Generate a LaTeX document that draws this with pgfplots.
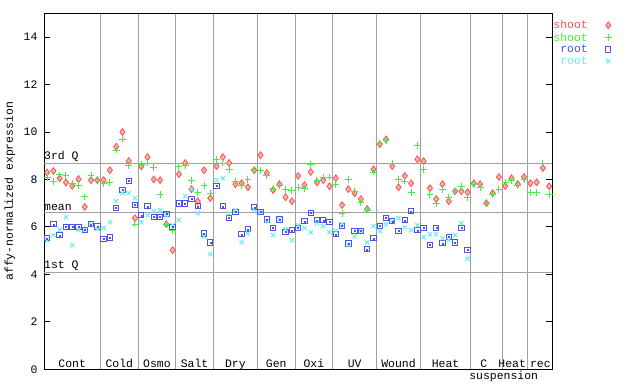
\documentclass[border=0pt]{standalone}
\usepackage{fontspec}
\setmainfont{Liberation Mono}
\usepackage{pgfplots}
\usepackage{pgfplotstable}
\pgfplotsset{compat=1.18}
\definecolor{cred}{RGB}{255,80,80}
\definecolor{cgreen}{RGB}{64,240,64}
\definecolor{cblue}{RGB}{80,80,240}
\definecolor{ccyan}{RGB}{100,240,240}
\definecolor{cgrid}{RGB}{160,160,160}
\pgfplotstableread{
i a b
1 8.29 8.09
2 8.36 7.90
3 8.05 8.19
4 7.87 8.15
5 7.73 7.83
6 8.01 7.73
7 6.84 7.26
8 7.97 8.17
9 7.97 8.01
10 7.97 7.81
11 8.39 7.86
12 9.38 9.24
13 10.00 9.70
14 8.77 8.60
15 6.37 6.12
16 8.55 8.62
17 8.94 8.69
18 8.00 8.50
19 7.97 7.38
20 6.11 6.11
21 5.02 5.86
22 8.22 8.56
23 8.69 8.60
24 7.59 7.97
25 7.08 7.46
26 8.39 7.76
27 7.21 7.42
28 8.56 8.85
29 8.94 8.69
30 8.69 8.43
31 7.80 7.93
32 7.84 7.76
33 7.67 8.00
34 8.39 8.43
35 9.02 8.39
36 8.27 8.15
37 7.55 7.63
38 7.80 7.76
39 7.25 7.59
40 7.08 7.55
41 8.15 7.67
42 7.76 7.63
43 8.31 8.64
44 7.88 7.97
45 7.97 8.10
46 7.71 8.10
47 8.05 7.80
48 6.92 6.58
49 7.59 8.00
50 7.42 7.50
51 7.17 7.04
52 6.75 6.71
53 8.43 8.31
54 9.48 9.53
55 9.69 9.62
56 8.56 8.69
57 7.67 8.00
58 8.15 7.93
59 7.84 7.46
60 8.85 9.44
61 8.77 8.43
62 7.63 7.38
63 7.17 7.00
64 7.80 7.59
65 7.08 7.25
66 7.50 7.50
67 7.50 7.72
68 7.46 7.25
69 7.84 7.80
70 7.80 7.67
71 7.00 7.00
72 7.42 7.38
73 8.10 7.59
74 7.72 7.88
75 8.05 7.97
76 7.80 7.76
77 8.10 8.00
78 7.84 7.46
79 7.88 7.46
80 8.48 8.69
81 7.71 7.38
}\shoottab
\pgfplotstableread{
i a b
1 5.52 5.43
2 6.11 5.65
3 5.65 5.88
4 5.99 6.41
5 5.99 5.23
6 5.99 5.87
7 5.88 5.88
8 6.11 6.11
9 6.02 5.91
10 5.49 5.94
11 5.56 6.20
12 6.79 7.09
13 7.55 7.42
14 7.93 7.42
15 6.92 7.21
16 6.49 6.20
17 6.87 6.49
18 6.41 6.66
19 6.41 6.71
20 6.54 6.49
21 6.00 6.07
22 6.99 6.29
23 6.99 7.30
24 7.17 7.59
25 6.87 6.58
26 5.73 5.60
27 5.35 4.85
28 7.72 7.97
29 6.87 8.05
30 6.37 6.58
31 6.62 6.70
32 5.69 5.35
33 5.90 5.73
34 6.83 6.72
35 6.62 6.62
36 6.32 6.24
37 5.95 5.65
38 6.32 6.32
39 5.78 5.90
40 5.86 5.44
41 5.95 6.07
42 6.24 5.95
43 6.58 5.77
44 6.28 6.16
45 6.28 6.03
46 6.20 5.77
47 5.69 5.84
48 6.03 6.11
49 5.30 5.23
50 5.82 5.60
51 5.82 5.82
52 5.06 5.35
53 5.52 6.03
54 6.03 5.82
55 6.37 6.11
56 6.24 6.24
57 5.82 6.37
58 6.28 5.99
59 6.66 5.86
60 5.86 6.07
61 5.95 5.57
62 5.23 5.69
63 5.95 5.69
64 5.31 5.52
65 5.57 5.44
66 5.35 5.65
67 5.95 6.16
68 5.02 4.66
}\roottab
\begin{document}
\begin{tikzpicture}
\useasboundingbox (0,0) rectangle (640bp,384bp);
\begin{axis}[
  scale only axis,
  width=508.3bp, height=356bp,
  at={(44bp,14.7bp)}, anchor=south west,
  xmin=0.5, xmax=81.5, ymin=0, ymax=15,
  font=\fontsize{11.5}{12}\selectfont,
  /pgf/number format/assume math mode=true,
  ytick={0,2,...,14},
  ytick pos=both,
  tick align=inside,
  major tick length=6bp,
  tick style={black, line width=0.8bp},
  yticklabel style={xshift=-3bp},
  yticklabel pos=left,
  xtick={9.5,15.5,21.5,27.5,34.5,40.5,46.5,53.5,60.5,68.5,73.5,77.5},
  xticklabels={},
  x tick style={draw=none},
  xmajorgrids,
  grid style={cgrid, line width=0.9bp},
  extra y ticks={4.09,6.62,8.69},
  extra y tick labels={},
  extra y tick style={grid=major, major tick length=0pt},
  axis line style={black, line width=1bp},
  ylabel={affy-normalized expression},
  ylabel style={at={(axis description cs:-0.067,0.5)}, anchor=center, font=\fontsize{11.5}{12}\selectfont},
  clip=false,
  legend style={at={(rel axis cs:1,1)}, anchor=north west, xshift=-1bp, yshift=-5bp,
    draw=none, fill=none, font=\fontsize{11.5}{11}\selectfont,
    cells={anchor=east}, row sep=-1.5bp, inner sep=0pt,
    legend plot pos=right},
]
\addplot[only marks, mark=diamond*, mark size=3.4bp, cred, mark options={fill=cred!45!white, line width=0.8bp}] table[x=i,y=a] {\shoottab};
\addlegendentry{\textcolor{cred}{shoot}\rule{15bp}{0pt}}
\addplot[only marks, mark=+, mark size=3.4bp, cgreen, mark options={line width=1bp}] table[x=i,y=b] {\shoottab};
\addlegendentry{\textcolor{cgreen}{shoot}\rule{15bp}{0pt}}
\addplot[only marks, mark=square, mark size=2.7bp, cblue, mark options={line width=1bp}] table[x=i,y=a] {\roottab};
\addlegendentry{\textcolor{cblue}{root}\rule{15bp}{0pt}}
\addplot[only marks, mark=x, mark size=3bp, ccyan, mark options={line width=1bp}] table[x=i,y=b] {\roottab};
\addlegendentry{\textcolor{ccyan}{root}\rule{15bp}{0pt}}
\addplot[only marks, mark=square*, mark size=0.5bp, cblue, forget plot] table[x=i,y=a] {\roottab};
\node[anchor=south west, inner sep=0pt] at (axis cs:0.5,8.69) [yshift=1.5bp] {3rd Q};
\node[anchor=south west, inner sep=0pt] at (axis cs:0.5,6.62) [yshift=1.5bp] {mean};
\node[anchor=south west, inner sep=0pt] at (axis cs:0.5,4.09) [yshift=1.5bp] {1st Q};
\node[anchor=base, inner sep=0pt] at (axis cs:5,0) [yshift=1.8bp] {Cont};
\node[anchor=base, inner sep=0pt] at (axis cs:12.5,0) [yshift=1.8bp] {Cold};
\node[anchor=base, inner sep=0pt] at (axis cs:18.5,0) [yshift=1.8bp] {Osmo};
\node[anchor=base, inner sep=0pt] at (axis cs:24.5,0) [yshift=1.8bp] {Salt};
\node[anchor=base, inner sep=0pt] at (axis cs:31,0) [yshift=1.8bp] {Dry};
\node[anchor=base, inner sep=0pt] at (axis cs:37.5,0) [yshift=1.8bp] {Gen};
\node[anchor=base, inner sep=0pt] at (axis cs:43.5,0) [yshift=1.8bp] {Oxi};
\node[anchor=base, inner sep=0pt] at (axis cs:50,0) [yshift=1.8bp] {UV};
\node[anchor=base, inner sep=0pt] at (axis cs:57,0) [yshift=1.8bp] {Wound};
\node[anchor=base, inner sep=0pt] at (axis cs:64.5,0) [yshift=1.8bp] {Heat};
\node[anchor=base, inner sep=0pt] at (axis cs:70.6,0) [yshift=1.8bp] {C};
\node[anchor=base, inner sep=0pt] at (axis cs:75.1,0) [yshift=1.8bp] {Heat};
\node[anchor=base, inner sep=0pt] at (axis cs:79.6,0) [yshift=1.8bp] {rec};
\node[anchor=base, inner sep=0pt] at (axis cs:73.75,0) [yshift=-10.5bp] {suspension};
\end{axis}
\end{tikzpicture}
\end{document}
